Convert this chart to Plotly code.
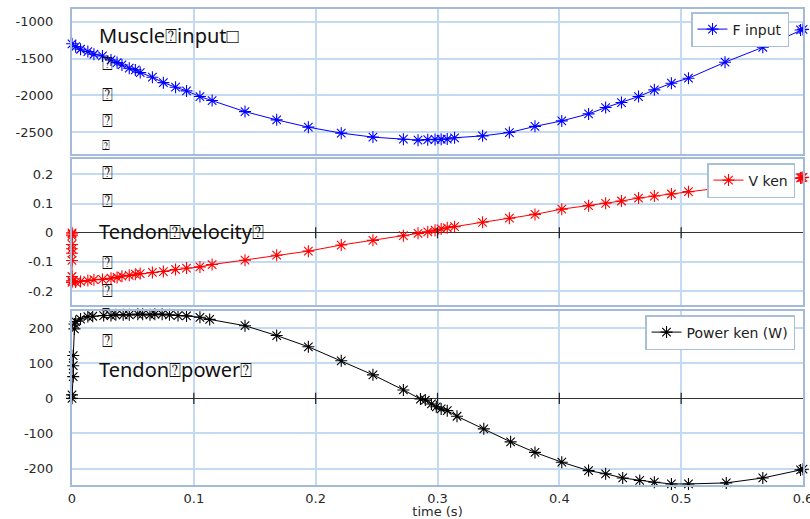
import plotly.graph_objects as go
from plotly.subplots import make_subplots

# ---------------- data ----------------
t_force = [0, 0.003, 0.007, 0.013, 0.018, 0.025, 0.032, 0.037, 0.041, 0.047, 0.052, 0.056,
           0.066, 0.075, 0.085, 0.094, 0.105, 0.115, 0.142, 0.168, 0.194, 0.221, 0.247,
           0.272, 0.284, 0.292, 0.298, 0.303, 0.308, 0.314, 0.337, 0.359, 0.380, 0.402,
           0.424, 0.438, 0.451, 0.465, 0.478, 0.492, 0.506, 0.536, 0.567, 0.598, 0.6]
f_input = [-1300, -1339, -1374, -1406, -1442, -1465, -1519, -1555, -1587, -1631, -1654, -1691,
           -1753, -1827, -1889, -1939, -2016, -2070, -2220, -2332, -2431, -2512, -2566,
           -2594, -2607, -2600, -2597, -2595, -2592, -2575, -2549, -2504, -2420, -2346,
           -2251, -2165, -2097, -2016, -1925, -1835, -1767, -1550, -1347, -1112, -1105]

t_vel = [0, 0, 0, 0, 0, 0, 0, 0, 0, 0,
         0.003, 0.007, 0.013, 0.018, 0.025, 0.032, 0.037, 0.041, 0.047, 0.052, 0.056,
         0.066, 0.075, 0.085, 0.094, 0.105, 0.115, 0.142, 0.168, 0.194, 0.221, 0.247,
         0.272, 0.284, 0.292, 0.298, 0.303, 0.308, 0.314, 0.337, 0.359, 0.380, 0.402,
         0.424, 0.438, 0.451, 0.465, 0.478, 0.492, 0.506, 0.536, 0.567, 0.598, 0.599, 0.6]
v_ken = [0, -0.004, -0.010, -0.040, -0.055, -0.070, -0.095, -0.150, -0.165, -0.170,
         -0.169, -0.167, -0.164, -0.161, -0.160, -0.156, -0.153, -0.149, -0.146, -0.142, -0.140,
         -0.136, -0.133, -0.126, -0.121, -0.117, -0.109, -0.094, -0.077, -0.063, -0.042, -0.026,
         -0.010, -0.002, 0.003, 0.009, 0.013, 0.017, 0.021, 0.036, 0.050, 0.063, 0.081,
         0.093, 0.101, 0.109, 0.119, 0.126, 0.133, 0.141, 0.157, 0.172, 0.188, 0.189, 0.190]

t_pow = [0, 0, 0.001, 0.001, 0.001, 0.002, 0.002,
         0.003, 0.007, 0.013, 0.017, 0.026, 0.032, 0.036, 0.042, 0.047, 0.054, 0.058,
         0.064, 0.068, 0.074, 0.080, 0.087, 0.094, 0.105, 0.113, 0.142, 0.168, 0.194,
         0.221, 0.247, 0.272, 0.286, 0.290, 0.295, 0.299, 0.303, 0.308, 0.316, 0.338,
         0.360, 0.380, 0.402, 0.424, 0.438, 0.452, 0.466, 0.478, 0.492, 0.506, 0.537,
         0.567, 0.598, 0.6]
p_ken = [0, 10, 62, 93, 122, 198, 212,
         219, 226, 233, 234, 236, 236, 238, 238, 238, 240, 240,
         238, 240, 240, 238, 236, 235, 231, 225, 207, 179, 147,
         107, 67, 24, -2, -5, -16, -24, -30, -35, -51, -87,
         -124, -154, -182, -206, -215, -227, -234, -239, -244, -244, -241,
         -227, -204, -202]

x_ticks = [0, 0.1, 0.2, 0.3, 0.4, 0.5, 0.6]
x_ticktext = ["0", "0.1", "0.2", "0.3", "0.4", "0.5", "0.6"]
y1_ticks = [-1000, -1500, -2000, -2500]
y1_text = ["-1000", "-1500", "-2000", "-2500"]
y2_ticks = [0.2, 0.1, 0, -0.1, -0.2]
y2_text = ["0.2", "0.1", "0", "-0.1", "-0.2"]
y3_ticks = [200, 100, 0, -100, -200]
y3_text = ["200", "100", "0", "-100", "-200"]

names = ["F input", "V ken", "Power ken (W)"]
labels = [
    ("Muscle⍰input□", 97, 35, 20),
    ("⍰", 100, 63, 18), ("⍰", 100, 94, 18), ("⍰", 100, 120, 18), ("⍰", 100, 145, 13),
    ("⍰", 100, 172, 18), ("⍰", 100, 200, 18),
    ("Tendon⍰velocity⍰", 97, 231, 20),
    ("⍰", 100, 262, 18), ("⍰", 100, 290, 18), ("⍰", 100, 313, 13), ("⍰", 100, 340, 18),
    ("Tendon⍰power⍰", 97, 369, 20),
]

# ---------------- figure ----------------
W, H = 810, 519
L, R, T, B = 71.5, 7, 9, 34
pw, ph = W - L - R, H - T - B

def px2x(px):
    return (px - L) / pw

def px2y(py):
    return (H - B - py) / ph

fig = make_subplots(rows=3, cols=1, shared_xaxes=True, vertical_spacing=0.0)

tick_font = dict(family="DejaVu Sans", size=13, color="#2a2a2a")
grid_c = "#c4daf3"
frame_c = "#a3bbd8"

series = [(t_force, f_input, "#0000ff", "legend"),
          (t_vel, v_ken, "#ff0000", "legend2"),
          (t_pow, p_ken, "#000000", "legend3")]
for i, (tx, ty, col, lg) in enumerate(series):
    fig.add_trace(go.Scatter(
        x=tx, y=ty, mode="lines+markers", name=names[i], legend=lg,
        line=dict(color=col, width=1),
        marker=dict(symbol="asterisk-open", size=10, color=col, line=dict(color=col, width=1.1)),
        cliponaxis=False,
    ), row=i + 1, col=1)

# small tick marks on the zero lines of panels 2 and 3
for r in (2, 3):
    fig.add_trace(go.Scatter(
        x=x_ticks[1:-1], y=[0] * (len(x_ticks) - 2), mode="markers", showlegend=False,
        hoverinfo="skip",
        marker=dict(symbol="line-ns-open", size=8, color="#222", line=dict(color="#222", width=1.2)),
    ), row=r, col=1)

domains = [
    (px2y(485), px2y(311)),
    (px2y(304.5), px2y(159)),
    (px2y(154), px2y(9)),
]
ranges = [[-2795, -828], [-0.246, 0.253], [-247, 249]]
yt = [(y1_ticks, y1_text), (y2_ticks, y2_text), (y3_ticks, y3_text)]

for i in range(3):
    r = i + 1
    fig.update_yaxes(
        row=r, col=1, range=ranges[i], tickvals=yt[i][0], ticktext=yt[i][1],
        showgrid=True, gridcolor=grid_c, gridwidth=1.5,
        showline=True, linecolor=frame_c, linewidth=2, mirror=True,
        zeroline=(i > 0), zerolinecolor="#333", zerolinewidth=1.2,
        tickfont=tick_font, ticks="", ticklabelstandoff=14, automargin=False,
        domain=[domains[2 - i][0], domains[2 - i][1]],
    )
    fig.update_xaxes(
        row=r, col=1, range=[0, 0.6], tickvals=x_ticks, ticktext=x_ticktext,
        showgrid=True, gridcolor=grid_c, gridwidth=1.5,
        showline=True, linecolor=frame_c, linewidth=2, mirror=True,
        zeroline=False, tickfont=tick_font, ticks="",
        showticklabels=(r == 3), ticklabeloverflow="allow", automargin=False,
    )

fig.update_xaxes(row=3, col=1, title=dict(text="time (s)", font=dict(family="DejaVu Sans", size=13, color="#2a2a2a"), standoff=1))

leg_common = dict(bgcolor="white", bordercolor="#a8bfd8", borderwidth=1.5,
                  font=dict(family="DejaVu Sans", size=14, color="#222"),
                  xanchor="right", yanchor="top", itemwidth=30,
                  tracegroupgap=0)
fig.update_layout(
    width=W, height=H,
    margin=dict(l=L, r=R, t=T, b=B, autoexpand=False),
    paper_bgcolor="white", plot_bgcolor="white",
    showlegend=True,
    legend=dict(x=px2x(789), y=px2y(12), **leg_common),
    legend2=dict(x=px2x(795), y=px2y(163), **leg_common),
    legend3=dict(x=px2x(795), y=px2y(315), **leg_common),
)

for text, x, y, s in labels:
    fig.add_annotation(
        text=text, xref="paper", yref="paper", x=px2x(x), y=px2y(y),
        xanchor="left", yanchor="middle", showarrow=False,
        font=dict(family="Noto Sans", size=s, color="#111"),
    )

fig.write_html("out.html")
